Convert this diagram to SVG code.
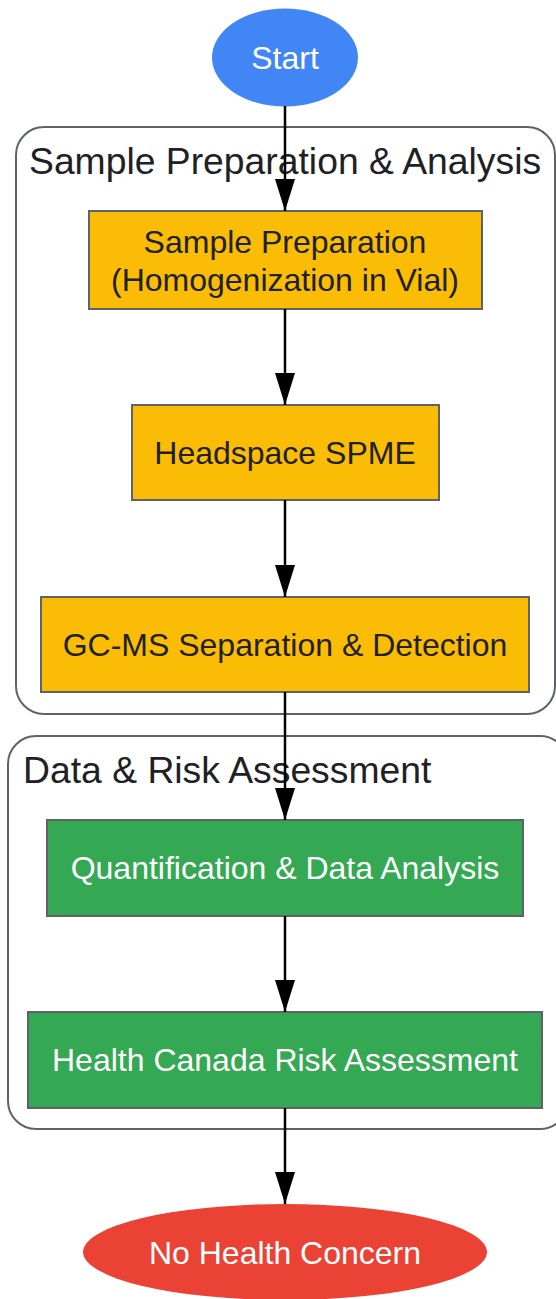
<svg xmlns="http://www.w3.org/2000/svg" width="556" height="1299" viewBox="0 0 556 1299">
<defs>
<style>
.cl{fill:#fff;stroke:#5f6368;stroke-width:2}
.cll{font-family:"Liberation Sans",Arial,sans-serif;font-size:37.3px;fill:#202124}
.n{stroke:#5f6368;stroke-width:2}
.t{font-family:"Liberation Sans",Arial,sans-serif;font-size:32px;text-anchor:middle;fill:#202124}
.w{fill:#fff}
.e{stroke:#000;stroke-width:2.5;fill:none}
</style>
<marker id="ah" markerWidth="32" markerHeight="20" refX="32" refY="10" orient="auto" markerUnits="userSpaceOnUse" viewBox="0 0 32 20">
<path d="M0,0 L32,10 L0,20 Z" fill="#000"/>
</marker>
</defs>
<g id="cluster1">
<rect class="cl" x="16" y="127" width="539" height="587" rx="28"/>
<text class="cll" x="29" y="174">Sample Preparation &amp; Analysis</text>
</g>
<g id="cluster2">
<rect class="cl" x="8" y="736" width="560" height="393" rx="28"/>
<text class="cll" x="23" y="783">Data &amp; Risk Assessment</text>
</g>
<g id="start">
<ellipse cx="285" cy="57.5" rx="73" ry="49" fill="#4285F4"/>
<text class="t w" x="285" y="69">Start</text>
</g>
<g id="prep">
<rect class="n" x="89" y="211" width="393" height="98" fill="#FBBC05"/>
<text class="t" x="285" y="253">Sample Preparation</text>
<text class="t" x="285" y="291">(Homogenization in Vial)</text>
</g>
<g id="spme">
<rect class="n" x="132" y="405" width="307" height="95" fill="#FBBC05"/>
<text class="t" x="285" y="464">Headspace SPME</text>
</g>
<g id="gcms">
<rect class="n" x="41" y="597" width="488" height="95" fill="#FBBC05"/>
<text class="t" x="285" y="656">GC-MS Separation &amp; Detection</text>
</g>
<g id="quant">
<rect class="n" x="47" y="820" width="476" height="96" fill="#34A853"/>
<text class="t w" x="285" y="879">Quantification &amp; Data Analysis</text>
</g>
<g id="risk">
<rect class="n" x="28" y="1012" width="514" height="96" fill="#34A853"/>
<text class="t w" x="285" y="1071">Health Canada Risk Assessment</text>
</g>
<g id="end">
<ellipse cx="285" cy="1252" rx="202" ry="48" fill="#EA4335"/>
<text class="t w" x="285" y="1264">No Health Concern</text>
</g>
<g id="edges">
<line class="e" x1="285" y1="106" x2="285" y2="211" marker-end="url(#ah)"/>
<line class="e" x1="285" y1="309" x2="285" y2="405" marker-end="url(#ah)"/>
<line class="e" x1="285" y1="500" x2="285" y2="597" marker-end="url(#ah)"/>
<line class="e" x1="285" y1="692" x2="285" y2="820" marker-end="url(#ah)"/>
<line class="e" x1="285" y1="916" x2="285" y2="1012" marker-end="url(#ah)"/>
<line class="e" x1="285" y1="1108" x2="285" y2="1204" marker-end="url(#ah)"/>
</g>
</svg>
